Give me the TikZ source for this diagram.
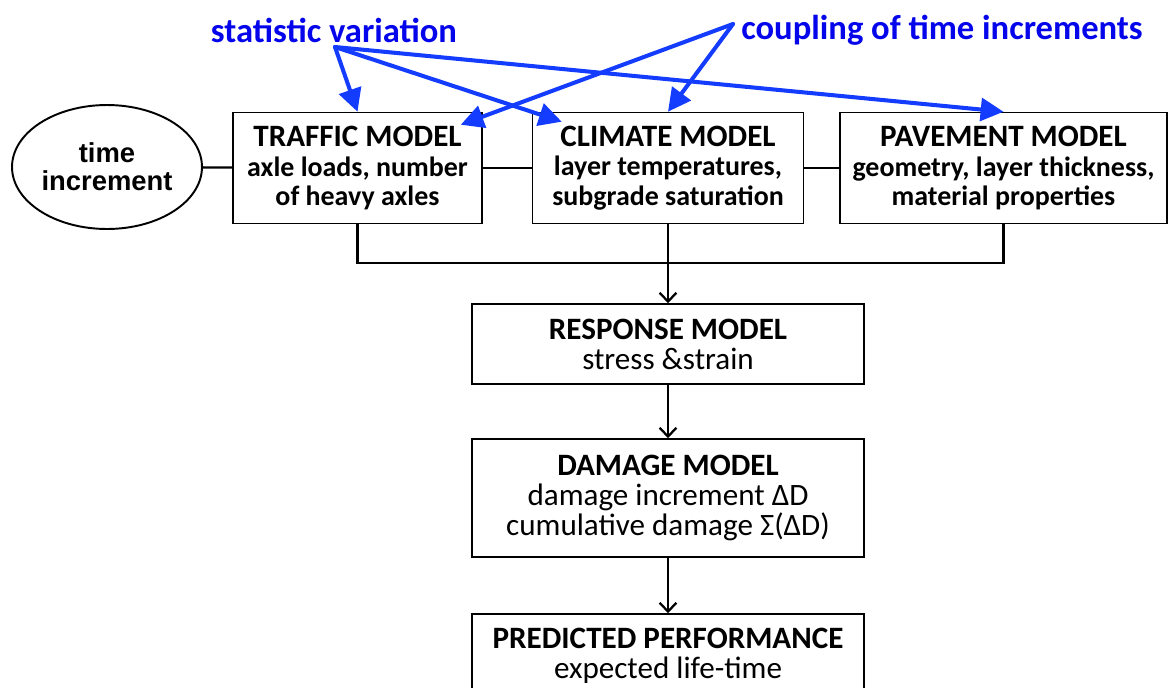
\documentclass[tikz,border=0pt]{standalone}
\usepackage{fontspec}
\setmainfont{Carlito}
\newfontfamily\arialfont{Liberation Sans}
\usetikzlibrary{arrows.meta,positioning,shapes.geometric}
\definecolor{labelblue}{RGB}{5,5,235}
\definecolor{arrowblue}{RGB}{20,60,255}
\newcommand{\detailsize}{\fontsize{15.9}{16.8}\selectfont}

\begin{document}
\begin{tikzpicture}[x=0.02cm, y=-0.02cm,
    model/.style={draw, line width=0.9pt, inner sep=0pt, align=center,
      font=\fontsize{17.7}{17.1}\selectfont},
    input/.style={model, font=\fontsize{17.7}{16.8}\selectfont\bfseries, minimum height=2.22cm},
    link/.style={line width=1.3pt},
    flow/.style={line width=1.3pt, -{Straight Barb[length=5pt, width=9.5pt, line width=1.3pt]}},
    hint/.style={arrowblue, line width=2.3pt, line cap=round, -{Triangle[length=13pt, width=13pt]}},
    hintlabel/.style={labelblue, font=\fontsize{19.7}{20}\selectfont\bfseries}]
  \useasboundingbox (0,0) rectangle (1168,687);
  % Time increment
  \node[draw, ellipse, line width=1.1pt, minimum width=3.8cm, minimum height=2.48cm, inner sep=0pt,
    align=center, font=\arialfont\fontsize{15.6}{16}\selectfont\bfseries] (time) at (107,167) {time\\increment};
  % Input models
  \node[input, minimum width=4.98cm] (traffic) at (357.5,168)
    {TRAFFIC MODEL\\\detailsize axle loads, number\\\detailsize of heavy axles};
  \node[input, minimum width=5.42cm] (climate) at (668,168)
    {CLIMATE MODEL\\\detailsize layer temperatures,\\\detailsize subgrade saturation};
  \node[input, minimum width=6.54cm] (pavement) at (1003.5,168)
    {PAVEMENT MODEL\\\detailsize geometry, layer thickness,\\\detailsize material properties};
  % Result chain
  \node[model, minimum width=7.84cm, minimum height=1.6cm] (response) at (668,344)
    {\textbf{RESPONSE MODEL}\\stress \&strain};
  \node[model, minimum width=7.84cm, minimum height=2.36cm] (damage) at (668,498)
    {\textbf{DAMAGE MODEL}\\damage increment ΔD\\cumulative damage Σ(ΔD)};
  \node[model, minimum width=7.84cm, minimum height=1.68cm] (predicted) at (668,656)
    {\textbf{PREDICTED PERFORMANCE}\\expected life-time};
  % Connections
  \coordinate (bus) at (668,263);
  \draw[link] (time) -- (traffic);
  \draw[link] (traffic) -- (climate);
  \draw[link] (climate) -- (pavement);
  \draw[link] (traffic.south) |- (bus) -| (pavement.south);
  \draw[flow] (climate.south) -- (response.north);
  \draw[flow] (response) -- (damage);
  \draw[flow] (damage) -- (predicted);
  % Blue annotations
  \node[hintlabel] (statvar) at (334,30) {statistic variation};
  \node[hintlabel] (coupling) at (942,30) {coupling of time increments};
  \coordinate (sv) at (335,47);
  \coordinate (cp) at (733,24);
  \coordinate (climate-in) at ([shift={(30,10)}]climate.north west);
  \coordinate (traffic-in) at ([shift={(-22,13)}]traffic.north east);
  \draw[hint] (sv) -- (traffic.north);
  \draw[hint] (sv) -- (climate-in);
  \draw[hint] (sv) -- (pavement.north);
  \draw[hint] (cp) -- (traffic-in);
  \draw[hint] (cp) -- (climate.north);
\end{tikzpicture}
\end{document}
